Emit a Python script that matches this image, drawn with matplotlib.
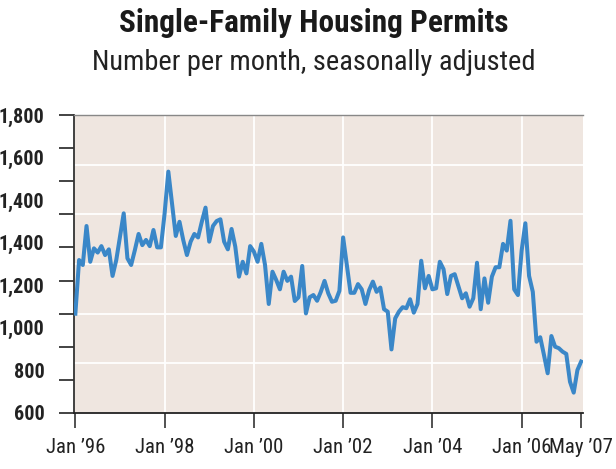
import matplotlib
matplotlib.use("Agg")
import matplotlib.pyplot as plt
from matplotlib import font_manager
import numpy as np

# Monthly permits, Jan 1996 .. May 2007
permits = [
    1000, 1216, 1196, 1353, 1209, 1263, 1246, 1272, 1236, 1259, 1152, 1216,
    1310, 1404, 1223, 1196, 1256, 1321, 1276, 1297, 1272, 1337, 1267, 1267,
    1404, 1572, 1444, 1313, 1370, 1297, 1236, 1290, 1321, 1307, 1370, 1427,
    1290, 1353, 1373, 1380, 1290, 1259, 1341, 1270, 1149, 1209, 1162, 1272,
    1250, 1209, 1281, 1196, 1039, 1169, 1136, 1098, 1169, 1132, 1149, 1051,
    1066, 1192, 1001, 1066, 1075, 1052, 1088, 1132, 1082, 1048, 1052, 1092,
    1307, 1196, 1084, 1084, 1119, 1098, 1039, 1095, 1129, 1088, 1105, 1018,
    1008, 856, 981, 1008, 1026, 1022, 1058, 1004, 1039, 1213, 1102, 1152,
    1098, 1102, 1209, 1179, 1079, 1152, 1159, 1111, 1062, 1082, 1028, 1062,
    1205, 1018, 1142, 1044, 1149, 1187, 1187, 1281, 1254, 1374, 1098, 1075,
    1254, 1364, 1152, 1088, 887, 905, 834, 760, 910, 867, 861, 847,
    838, 726, 682, 773, 807,
]
months = np.arange(len(permits))

x_ticks = [0, 24, 48, 72, 96, 120, 136]
x_labels = ["Jan \u201996", "Jan \u201998", "Jan \u201900", "Jan \u201902",
            "Jan \u201904", "Jan \u201906", "May \u201907"]
y_labels = ["1,800", "1,600", "1,400", "1,400", "1,200", "1,000", "800", "600"]
grid_levels = [800, 1000, 1200, 1400, 1600]

# pick a narrow face if one is installed
names = {f.name for f in font_manager.fontManager.ttflist}
narrow = None
for cand in ["Liberation Sans Narrow", "Roboto Condensed", "Open Sans Condensed",
             "DejaVu Sans Condensed"]:
    if cand in names:
        narrow = cand
        break
if narrow:
    fam = narrow
    scale = 1.0
else:
    fam = "Liberation Sans"
    scale = 0.84
plt.rcParams['font.family'] = [fam, 'DejaVu Sans']

fig = plt.figure(figsize=(6.16, 4.69), dpi=100)
ax = fig.add_axes([73.5 / 616, 56 / 469, 509.5 / 616, 298 / 469])
ax.set_facecolor('#efe6e0')

for g in grid_levels:
    ax.axhline(g, color='white', lw=1.3, zorder=1)
for t in x_ticks[1:-1]:
    ax.axvline(t, color='white', lw=1.3, zorder=1)

ax.plot(months, permits, color='#3a87c8', lw=2.9, solid_joinstyle='round', zorder=3)

ax.set_xlim(-0.5, 136.5)
ax.set_ylim(600, 1800)

# x axis
ax.set_xticks(x_ticks, labels=x_labels)
ax.tick_params(axis='x', length=10.8, width=1.2, color='#333333', pad=7,
               labelsize=15 * scale, labelcolor='#222222')

# y axis: ticks, labels and grid are spaced independently in the original
ax.yaxis.remove_overlapping_locs = False
ax.set_yticks(np.linspace(600, 1800, 10), labels=[''] * 10)
ax.set_yticks(np.linspace(1800, 600, 8), labels=y_labels, minor=True)
ax.tick_params(axis='y', which='major', length=11, width=1.2, color='#222222')
ax.tick_params(axis='y', which='minor', length=0, pad=21,
               labelsize=14.5 * scale, labelcolor='#222222')
for lab in ax.get_yticklabels(minor=True):
    lab.set_fontweight('bold')
for i, tk in enumerate(ax.yaxis.get_major_ticks()):
    if i in (3, 6, 9):
        tk.tick1line.set_color('#777777')

ax.spines['right'].set_visible(False)
ax.spines['top'].set_color('#888888')
ax.spines['top'].set_linewidth(1.0)
ax.spines['left'].set_color('#333333')
ax.spines['left'].set_linewidth(1.3)
ax.spines['bottom'].set_color('#222222')
ax.spines['bottom'].set_linewidth(1.3)

fig.text(314 / 616, 1 - 23 / 469, "Single-Family Housing Permits", ha='center',
         va='center', fontsize=22.5 * scale, fontweight='bold', color='#1a1a1a')
fig.text(314 / 616, 1 - 62 / 469, "Number per month, seasonally adjusted",
         ha='center', va='center', fontsize=20.4 * scale, color='#222222')

plt.savefig("out.png", dpi=100)
